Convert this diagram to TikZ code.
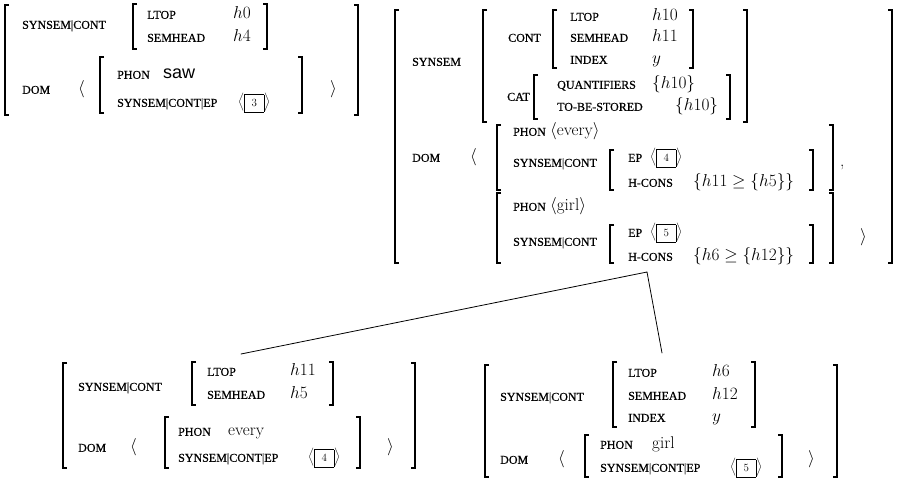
\documentclass[tikz,border=0pt]{standalone}
\usepackage{fontspec}
\newfontfamily\featfont[FakeBold=0.6]{Liberation Serif}
\newfontfamily\wordfont{Liberation Sans}
\usetikzlibrary{calc}

\begin{document}
\begin{tikzpicture}[x=1pt, y=-1pt]

\useasboundingbox (0, 0) rectangle (904, 484) ;

\tikzstyle{avm bracket} = [line width=1.2pt, color=black]
\tikzstyle{feat} = [anchor=base west, inner sep=0pt, yshift=-3.8pt, font=\featfont\fontsize{12}{14}\selectfont]
\tikzstyle{val} = [anchor=base west, inner sep=0pt, yshift=-3.8pt, font=\fontsize{17}{19}\selectfont]
\tikzstyle{tree line} = [line width=.8pt, color=black, line cap=round]

\newcommand\avmopen[3]{\draw [avm bracket] (#1 + 4, #2) -- (#1, #2) -- (#1, #3) -- (#1 + 4, #3) ;}
\newcommand\avmclose[3]{\draw [avm bracket] (#1 - 4, #2) -- (#1, #2) -- (#1, #3) -- (#1 - 4, #3) ;}
\newcommand\tagbox[1]{$\left\langle\fboxsep=3pt\fbox{\makebox[13pt]{\rule[-2pt]{0pt}{11pt}\fontsize{11}{13}\selectfont #1}}\right\rangle$}

% saw

\avmopen{5}{5}{115}
\avmclose{358}{5}{115}

\node [feat] (sawSS) at (22, 25) {SYNSEM|CONT} ;
\avmopen{133}{4}{49}
\avmclose{267}{4}{49}
\node [feat] (sawLtop) at (147, 15) {LTOP} ;
\node [val] (sawLtopV) at (233, 15) {$h0$} ;
\node [feat] (sawSem) at (147, 38) {SEMHEAD} ;
\node [val] (sawSemV) at (233, 38) {$h4$} ;

\node [feat] (sawDom) at (22, 90) {DOM} ;
\node [val] (sawDomL) at (78, 90) {$\langle$} ;
\avmopen{100}{57}{113}
\avmclose{302}{57}{113}
\node [feat] (sawPhon) at (117, 75) {PHON} ;
\node [val, font=\wordfont\fontsize{18}{20}\selectfont] (sawPhonV) at (163, 75) {saw} ;
\node [feat] (sawEp) at (117, 103) {SYNSEM|CONT|EP} ;
\node [val] (sawEpV) at (238, 103) {\tagbox{3}} ;
\node [val] (sawDomR) at (330, 90) {$\rangle$} ;

% every girl

\avmopen{395}{10}{263}
\avmclose{892}{10}{263}

\node [feat] (npSS) at (412, 62) {SYNSEM} ;
\avmopen{483}{10}{122}
\avmclose{747}{10}{122}

\node [feat] (npCont) at (508, 38) {CONT} ;
\avmopen{553}{10}{68}
\avmclose{693}{10}{68}
\node [feat] (npLtop) at (570, 17) {LTOP} ;
\node [val] (npLtopV) at (652, 17) {$h10$} ;
\node [feat] (npSem) at (570, 38) {SEMHEAD} ;
\node [val] (npSemV) at (652, 38) {$h11$} ;
\node [feat] (npIdx) at (570, 60) {INDEX} ;
\node [val] (npIdxV) at (652, 60) {$y$} ;

\node [feat] (npCat) at (507, 97) {CAT} ;
\avmopen{534}{75}{119}
\avmclose{730}{75}{119}
\node [feat] (npQ) at (557, 85) {QUANTIFIERS} ;
\node [val] (npQV) at (652, 85) {$\{h10\}$} ;
\node [feat] (npTbs) at (557, 107) {TO-BE-STORED} ;
\node [val] (npTbsV) at (675, 107) {$\{h10\}$} ;

\node [feat] (npDom) at (412, 158) {DOM} ;
\node [val] (npDomL) at (470, 158) {$\langle$} ;

\avmopen{497}{125}{190}
\avmclose{833}{125}{190}
\node [feat] (evPhon) at (513, 132) {PHON} ;
\node [val] (evPhonV) at (550, 132) {$\langle$every$\rangle$} ;
\node [feat] (evSS) at (513, 163) {SYNSEM|CONT} ;
\avmopen{610}{150}{190}
\avmclose{813}{150}{190}
\node [feat] (evEp) at (628, 158) {EP} ;
\node [val] (evEpV) at (650, 158) {\tagbox{4}} ;
\node [feat] (evHc) at (628, 183) {H-CONS} ;
\node [val] (evHcV) at (693, 183) {$\{h11 \geq \{h5\}\}$} ;
\node [val] (evComma) at (840, 163) {,} ;

\avmopen{497}{193}{263}
\avmclose{833}{193}{263}
\node [feat] (giPhon) at (513, 207) {PHON} ;
\node [val] (giPhonV) at (550, 207) {$\langle$girl$\rangle$} ;
\node [feat] (giSS) at (513, 242) {SYNSEM|CONT} ;
\avmopen{610}{225}{263}
\avmclose{813}{225}{263}
\node [feat] (giEp) at (628, 233) {EP} ;
\node [val] (giEpV) at (650, 233) {\tagbox{5}} ;
\node [feat] (giHc) at (628, 257) {H-CONS} ;
\node [val] (giHcV) at (693, 257) {$\{h6 \geq \{h12\}\}$} ;

\node [val] (npDomR) at (860, 238) {$\rangle$} ;

% every

\avmopen{63}{363}{468}
\avmclose{415}{363}{468}

\node [feat] (evcSS) at (78, 387) {SYNSEM|CONT} ;
\avmopen{192}{362}{405}
\avmclose{333}{362}{405}
\node [feat] (evcLtop) at (207, 372) {LTOP} ;
\node [val] (evcLtopV) at (290, 372) {$h11$} ;
\node [feat] (evcSem) at (207, 395) {SEMHEAD} ;
\node [val] (evcSemV) at (290, 395) {$h5$} ;

\node [feat] (evcDom) at (78, 448) {DOM} ;
\node [val] (evcDomL) at (130, 448) {$\langle$} ;
\avmopen{165}{417}{468}
\avmclose{360}{417}{468}
\node [feat] (evcPhon) at (178, 432) {PHON} ;
\node [val] (evcPhonV) at (228, 432) {every} ;
\node [feat] (evcEp) at (178, 458) {SYNSEM|CONT|EP} ;
\node [val] (evcEpV) at (308, 458) {\tagbox{4}} ;
\node [val] (evcDomR) at (387, 448) {$\rangle$} ;

% girl

\avmopen{485}{365}{477}
\avmclose{837}{365}{477}

\node [feat] (gicSS) at (500, 397) {SYNSEM|CONT} ;
\avmopen{613}{362}{427}
\avmclose{755}{362}{427}
\node [feat] (gicLtop) at (628, 373) {LTOP} ;
\node [val] (gicLtopV) at (712, 373) {$h6$} ;
\node [feat] (gicSem) at (628, 396) {SEMHEAD} ;
\node [val] (gicSemV) at (712, 396) {$h12$} ;
\node [feat] (gicIdx) at (628, 418) {INDEX} ;
\node [val] (gicIdxV) at (712, 418) {$y$} ;

\node [feat] (gicDom) at (500, 460) {DOM} ;
\node [val] (gicDomL) at (558, 460) {$\langle$} ;
\avmopen{585}{435}{477}
\avmclose{782}{435}{477}
\node [feat] (gicPhon) at (600, 445) {PHON} ;
\node [val] (gicPhonV) at (652, 445) {girl} ;
\node [feat] (gicEp) at (600, 468) {SYNSEM|CONT|EP} ;
\node [val] (gicEpV) at (730, 468) {\tagbox{5}} ;
\node [val] (gicDomR) at (808, 460) {$\rangle$} ;

% tree

\coordinate (apex) at (647, 272) ;
\coordinate (everyTop) at (241, 354) ;
\coordinate (girlTop) at (662, 353) ;

\draw [tree line] (everyTop) -- (apex) -- (girlTop) ;

\end{tikzpicture}
\end{document}
